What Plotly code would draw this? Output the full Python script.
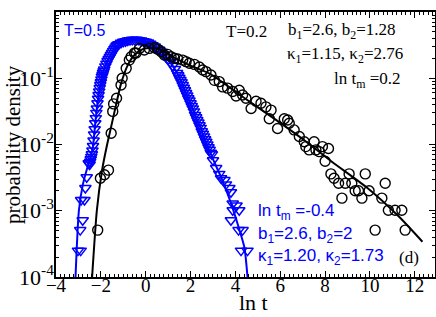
import plotly.graph_objects as go

# ---------------- data ----------------
# T = 0.2 : black open circles
black_x = [-2.14, -2.02, -1.84, -1.66, -1.54, -1.47, -1.43, -1.30, -1.10, -1.05,
           -0.87, -0.73, -0.65, -0.50, -0.43, -0.28, -0.06, 0.16, 0.39, 0.53,
           0.69, 0.83, 0.98, 1.13, 1.28, 1.43, 1.65, 1.80, 1.95, 2.17,
           2.39, 2.54, 2.69, 2.91, 3.06, 3.28, 3.43, 3.65, 3.88, 4.03,
           4.17, 4.32, 4.47, 4.70, 4.92, 5.14, 5.36, 5.51, 5.59, 5.88,
           6.18, 6.33, 6.40, 6.62, 6.85, 7.07, 7.14, 7.29, 7.51, 7.59,
           7.74, 7.88, 8.00, 8.15, 8.26, 8.40, 8.60, 8.75, 8.90, 9.07,
           9.19, 9.34, 9.49, 9.64, 9.79, 9.96, 10.23, 10.53, 10.68, 10.82,
           11.12, 11.42, 11.57]
black_y = [0.00051, 0.0031, 0.0035, 0.0041, 0.0148, 0.0316, 0.041, 0.050, 0.079, 0.100,
           0.141, 0.188, 0.211, 0.240, 0.240, 0.282, 0.267, 0.282, 0.288, 0.275,
           0.251, 0.224, 0.229, 0.211, 0.200, 0.195, 0.188, 0.178, 0.168, 0.162,
           0.148, 0.133, 0.126, 0.112, 0.093, 0.089, 0.074, 0.071, 0.063, 0.054,
           0.066, 0.056, 0.050, 0.035, 0.045, 0.042, 0.037, 0.0245, 0.033, 0.0174,
           0.0245, 0.0234, 0.0209, 0.0166, 0.0132, 0.0110, 0.0093, 0.0083, 0.0110, 0.0083,
           0.0078, 0.0093, 0.0056, 0.0087, 0.0036, 0.0031, 0.0026, 0.00155, 0.0026, 0.0036,
           0.0026, 0.0020, 0.0020, 0.00155, 0.0036, 0.0020, 0.00051, 0.00155, 0.0026, 0.00102,
           0.00102, 0.00102, 0.00051]

# T = 0.2 : black fitted curve
black_fit_x = [-2.39, -2.18, -1.95, -1.72, -1.50, -1.32, -1.10, -0.80, -0.50, -0.13,
               0.30, 0.61, 1.20, 1.95, 2.85, 4.32, 5.81, 7.29, 8.33, 9.82, 11.30, 12.34]
black_fit_y = [1e-4, 1e-3, 0.0040, 0.010, 0.0214, 0.040, 0.083, 0.158, 0.224, 0.275,
               0.285, 0.275, 0.211, 0.158, 0.117, 0.0525, 0.0235, 0.0102, 0.0054, 0.0023,
               0.00081, 0.00034]

# T = 0.5 : blue open down-triangles
blue_x = [-3.02, -2.90, -2.92, -2.81, -2.88, -2.73, -2.69, -2.63, -2.54,
          -2.50, -2.475, -2.45, -2.425, -2.40, -2.375, -2.35, -2.325, -2.30, -2.275,
          -2.25, -2.225, -2.20, -2.175, -2.15, -2.125, -2.10, -2.075, -2.05, -2.025,
          -2.00, -1.975, -1.95, -1.925, -1.90, -1.875, -1.85, -1.80, -1.75, -1.70,
          -1.65, -1.60, -1.55, -1.50, -1.45, -1.40, -1.35, -1.30, -1.25, -1.20,
          -1.10, -1.00, -0.90, -0.80, -0.70, -0.60, -0.50, -0.40, -0.30, -0.20,
          -0.10, 0.00, 0.10, 0.20, 0.30, 0.40, 0.50, 0.60, 0.70, 0.80,
          0.90, 1.00, 1.10, 1.20, 1.30, 1.40, 1.45, 1.50, 1.55, 1.60,
          1.65, 1.70, 1.75, 1.80, 1.85, 1.90, 1.95, 2.00, 2.05, 2.10,
          2.15, 2.20, 2.25, 2.30, 2.35, 2.40, 2.45, 2.50, 2.55, 2.60,
          2.65, 2.70, 2.75, 2.80, 2.85, 2.90, 2.95, 3.00,
          3.14, 3.28, 3.36, 3.51, 3.58, 3.73, 3.80, 3.88, 4.05, 3.88,
          4.17, 3.80, 4.14, 4.32, 4.25, 4.54]
blue_y = [0.00025, 0.00025, 0.00051, 0.00072, 0.00145, 0.00145, 0.0022, 0.0032, 0.0052,
          0.0050, 0.0055, 0.0060, 0.0065, 0.0071, 0.0081, 0.0095, 0.0115, 0.0141, 0.017,
          0.0209, 0.025, 0.030, 0.035, 0.042, 0.049, 0.056, 0.063, 0.071, 0.079,
          0.087, 0.096, 0.105, 0.112, 0.120, 0.127, 0.135, 0.151, 0.166, 0.182,
          0.195, 0.209, 0.224, 0.240, 0.257, 0.275, 0.292, 0.309, 0.320, 0.327,
          0.343, 0.355, 0.363, 0.372, 0.376, 0.380, 0.380, 0.380, 0.376, 0.372,
          0.363, 0.355, 0.347, 0.331, 0.316, 0.302, 0.282, 0.269, 0.251, 0.229,
          0.209, 0.191, 0.174, 0.155, 0.138, 0.120, 0.111, 0.102, 0.094, 0.087,
          0.079, 0.072, 0.066, 0.060, 0.055, 0.050, 0.046, 0.042, 0.038, 0.035,
          0.0316, 0.028, 0.0257, 0.0234, 0.0214, 0.0195, 0.0178, 0.0158, 0.0145, 0.0132,
          0.0120, 0.0110, 0.0100, 0.0091, 0.0083, 0.0075, 0.0071, 0.0058,
          0.0044, 0.0036, 0.0031, 0.0029, 0.0025, 0.0022, 0.0019, 0.00129, 0.0012, 0.00102,
          0.00102, 0.00072, 0.00051, 0.00051, 0.00025, 0.00025]

# T = 0.5 : blue fitted curve
blue_fit_x = [-3.13, -2.98, -2.80, -2.60, -2.45, -2.35, -2.25, -2.15, -2.00, -1.80,
              -1.50, -1.20, -0.90, -0.50, -0.20, 0.20, 0.60, 1.00, 1.40, 1.80,
              2.20, 2.60, 3.00, 3.40, 3.80, 4.10, 4.40, 4.54]
blue_fit_y = [1e-4, 1e-3, 0.0025, 0.0045, 0.0065, 0.0095, 0.021, 0.042, 0.087, 0.151,
              0.240, 0.327, 0.363, 0.380, 0.372, 0.331, 0.269, 0.191, 0.120, 0.060,
              0.028, 0.0132, 0.0060, 0.0030, 0.0013, 0.00063, 0.00028, 1e-4]

y_tick_vals = [1e-4, 1e-3, 1e-2, 1e-1, 1e0]
y_tick_text = ["10<sup>-4</sup>", "10<sup>-3</sup>", "10<sup>-2</sup>",
               "10<sup>-1</sup>", "10<sup>0</sup>"]
x_tick_vals = [-4, -2, 0, 2, 4, 6, 8, 10, 12]

BLUE = "#0000ff"
SERIF = "Times New Roman"
SANS = "Liberation Sans"

fig = go.Figure()
fig.add_trace(go.Scatter(x=blue_x, y=blue_y, mode="markers",
                         marker=dict(symbol="triangle-down-open", size=10,
                                     color=BLUE, line=dict(width=1.5, color=BLUE)),
                         showlegend=False))
fig.add_trace(go.Scatter(x=blue_fit_x, y=blue_fit_y, mode="lines",
                         line=dict(color=BLUE, width=2, shape="spline", smoothing=0.6),
                         showlegend=False))
fig.add_trace(go.Scatter(x=black_x, y=black_y, mode="markers",
                         marker=dict(symbol="circle-open", size=10,
                                     color="black", line=dict(width=1.4, color="black")),
                         showlegend=False))
fig.add_trace(go.Scatter(x=black_fit_x, y=black_fit_y, mode="lines",
                         line=dict(color="black", width=2, shape="spline", smoothing=0.6),
                         showlegend=False))

minor_y = [m * 10 ** d for d in range(-4, 0) for m in range(2, 10)]

fig.update_xaxes(range=[-4, 12.9], tickvals=x_tick_vals, ticks="inside", ticklen=6,
                 tickwidth=1.2, tickcolor="black", automargin=False,
                 ticklabelstandoff=-10,
                 showline=True, linecolor="black", linewidth=1.5, mirror="allticks",
                 showgrid=False, zeroline=False,
                 minor=dict(dtick=0.2, tick0=0, ticks="inside", ticklen=3,
                            tickcolor="black", tickwidth=1, showgrid=False),
                 tickfont=dict(family=SERIF, size=19, color="black"))
fig.update_yaxes(type="log", range=[-4, 0], tickvals=y_tick_vals, ticktext=y_tick_text,
                 ticks="inside", ticklen=6, tickwidth=1.2, tickcolor="black",
                 automargin=False, ticklabelstandoff=-4,
                 showline=True, linecolor="black", linewidth=1.5, mirror="allticks",
                 showgrid=False, zeroline=False,
                 minor=dict(tickvals=minor_y, ticks="inside", ticklen=3,
                            tickcolor="black", tickwidth=1, showgrid=False),
                 tickfont=dict(family=SERIF, size=22, color="black"))

def ann(text, x, y, color="black", family=SERIF, size=17, xanchor="left", angle=0):
    fig.add_annotation(text=text, x=x, y=y, xref="paper", yref="paper",
                       xanchor=xanchor, yanchor="middle", showarrow=False,
                       textangle=angle, borderpad=0,
                       font=dict(family=family, size=size, color=color))

# axis titles
ann("ln t", 0.52, -0.098, "black", SERIF, 22, "center")
ann("probability density", -0.115, 0.50, "black", SERIF, 21, "center", -90)

ann("T=0.5", 0.018, 0.932, BLUE, SANS, 16)
ann("T=0.2", 0.446, 0.928)
ann("b<sub>1</sub>=2.6, b<sub>2</sub>=1.28", 0.609, 0.928)
ann("κ<sub>1</sub>=1.15, κ<sub>2</sub>=2.76", 0.607, 0.838)
ann("ln t<sub>m</sub> =0.2", 0.731, 0.743)
ann("ln t<sub>m</sub> =-0.4", 0.530, 0.245, BLUE, SANS, 17)
ann("b<sub>1</sub>=2.6, b<sub>2</sub>=2", 0.530, 0.158, BLUE, SANS, 17)
ann("κ<sub>1</sub>=1.20, κ<sub>2</sub>=1.73", 0.530, 0.0755, BLUE, SANS, 17)
ann("(d)", 0.902, 0.072, "black", SERIF, 17)

fig.update_layout(width=436, height=317,
                  margin=dict(l=56, r=1, t=12, b=40),
                  paper_bgcolor="white", plot_bgcolor="white",
                  font=dict(family=SERIF),
                  showlegend=False)

fig.write_html("out.html", config={"displayModeBar": False},
               post_script="document.body.style.margin='0px';document.body.style.padding='0px';")
